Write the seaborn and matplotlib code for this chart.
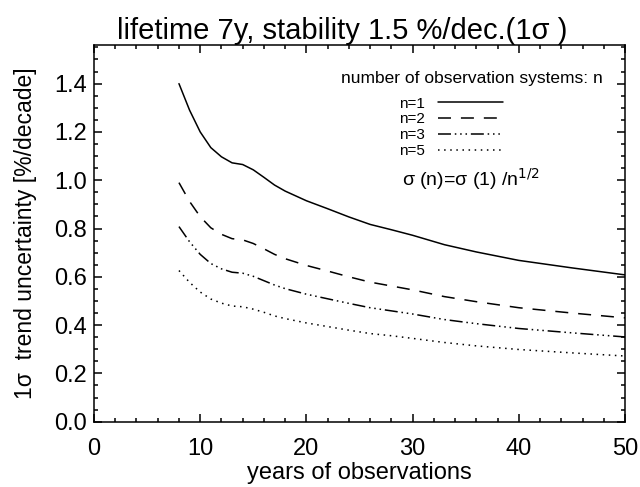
import matplotlib
matplotlib.use("Agg")
import matplotlib.pyplot as plt
from matplotlib.ticker import MultipleLocator, FormatStrFormatter
import pandas as pd
import seaborn as sns

# values
years = [8, 9, 10, 11, 12, 13, 14, 15, 16, 17, 18, 20, 22, 24, 26, 28, 30, 33, 36, 40, 45, 50]
n1 = [1.40, 1.29, 1.20, 1.135, 1.097, 1.072, 1.065, 1.043, 1.012, 0.980, 0.955, 0.915,
      0.882, 0.848, 0.817, 0.795, 0.772, 0.733, 0.703, 0.668, 0.637, 0.608]
n2 = [0.990, 0.912, 0.849, 0.803, 0.776, 0.758, 0.753, 0.738, 0.716, 0.693, 0.675, 0.647,
      0.624, 0.600, 0.578, 0.562, 0.546, 0.518, 0.497, 0.472, 0.450, 0.430]
n3 = [0.808, 0.745, 0.693, 0.655, 0.633, 0.619, 0.615, 0.602, 0.584, 0.566, 0.551, 0.528,
      0.509, 0.490, 0.472, 0.459, 0.446, 0.423, 0.406, 0.386, 0.368, 0.351]
n5 = [0.626, 0.577, 0.537, 0.508, 0.491, 0.479, 0.476, 0.466, 0.453, 0.438, 0.427, 0.409,
      0.394, 0.379, 0.365, 0.356, 0.345, 0.328, 0.314, 0.299, 0.285, 0.272]
series_names = ["n=1", "n=2", "n=3", "n=5"]

df = pd.concat([pd.DataFrame({"years": years, "unc": vals, "n": name})
                for name, vals in zip(series_names, [n1, n2, n3, n5])])

sns.set_style("ticks")
plt.rcParams["font.family"] = ["Liberation Sans", "DejaVu Sans"]
for k in ["text.color", "axes.labelcolor", "xtick.color", "ytick.color", "axes.edgecolor"]:
    plt.rcParams[k] = "black"

fig = plt.figure(figsize=(6.4, 4.87), dpi=100)
ax = fig.add_axes([94 / 640, 1 - 421.7 / 487, 531 / 640, 376.7 / 487])

dashes = {"n=1": "", "n=2": (8.5, 6.5),
          "n=3": (8.5, 2.5, 1, 2.5, 1, 2.5, 1, 2.5), "n=5": (1, 3)}
sns.lineplot(data=df, x="years", y="unc", style="n", dashes=dashes,
             color="black", lw=1.1, ax=ax)

ax.set_xlim(0, 50)
ax.set_ylim(0, 1.56)
ax.xaxis.set_major_locator(MultipleLocator(10))
ax.xaxis.set_minor_locator(MultipleLocator(2))
ax.yaxis.set_major_locator(MultipleLocator(0.2))
ax.yaxis.set_minor_locator(MultipleLocator(0.05))
ax.yaxis.set_major_formatter(FormatStrFormatter("%.1f"))
ax.tick_params(which="both", direction="in", top=True, right=True, width=1.1, labelsize=17)
ax.tick_params(which="major", length=6)
ax.tick_params(which="minor", length=3)
ax.tick_params(axis="x", which="major", pad=12)
ax.tick_params(axis="y", which="major", pad=5)
for s in ax.spines.values():
    s.set_linewidth(1.1)

ax.set_xlabel("years of observations", fontsize=17, labelpad=1)
ax.set_ylabel("1σ  trend uncertainty [%/decade]", fontsize=16.5)
ax.yaxis.set_label_coords(-0.107, 0.5)
ax.set_title("lifetime 7y, stability 1.5 %/dec.(1σ )", fontsize=21, x=0.467, pad=4)

# legend block
ax.text(0.958, 0.91, "number of observation systems: n", transform=ax.transAxes,
        ha="right", va="center", fontsize=12.5)
handles, labels = ax.get_legend_handles_labels()
ax.legend(handles, labels, loc="upper left", bbox_to_anchor=(0.574, 0.863),
          frameon=False, markerfirst=False, fontsize=11, handlelength=4.2,
          handletextpad=0.9, labelspacing=0.12, borderpad=0, borderaxespad=0)
ax.text(0.58, 0.643, r"σ (n)=σ (1) /n$^{1/2}$", transform=ax.transAxes,
        ha="left", va="center", fontsize=14)

fig.savefig("out.png", dpi=100)
